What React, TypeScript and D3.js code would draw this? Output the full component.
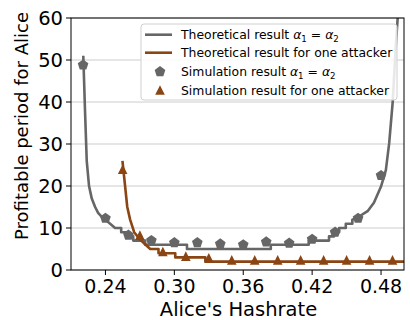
import React from "react";
import * as d3 from "d3";

// Theoretical result alpha1 = alpha2 (gray step curve)
const eqTheoryAlpha = [
  0.2207, 0.2214, 0.2222, 0.2237, 0.2257, 0.2281, 0.231, 0.2336, 0.237, 0.2397, 0.2441, 0.2484,
  0.2537, 0.2537, 0.259, 0.259, 0.2642, 0.2642, 0.2746, 0.2746, 0.311, 0.311, 0.384, 0.384,
  0.417, 0.417, 0.4347, 0.4347, 0.439, 0.439, 0.4435, 0.4435, 0.4493, 0.4493, 0.455, 0.455,
  0.4595, 0.4683, 0.4738, 0.4799, 0.4842, 0.4871, 0.4901, 0.493, 0.4945,
];
const eqTheoryValue = [
  51, 45, 38, 26, 20, 17, 15, 13.6, 12.6, 12, 11, 10,
  10, 9, 9, 8, 8, 7, 7, 6, 6, 5, 5, 6,
  6, 7, 7, 8, 8, 9, 9, 10, 10, 11, 11, 12,
  12.5, 14, 16, 19.8, 23.8, 30.2, 39.8, 54, 60,
];

// Theoretical result for one attacker (brown step curve)
const oneTheoryAlpha = [
  0.2548, 0.2571, 0.259, 0.2615, 0.265, 0.27, 0.275, 0.279,
  0.2862, 0.2862, 0.3008, 0.3008, 0.327, 0.327, 0.5,
];
const oneTheoryValue = [
  26, 20, 15, 12, 9, 7.3, 6, 5,
  5, 4, 4, 3, 3, 2, 2,
];

// Simulation result alpha1 = alpha2 (gray pentagons)
const eqSimAlpha = [0.2205, 0.24, 0.26, 0.28, 0.30, 0.32, 0.34, 0.36, 0.38, 0.40, 0.42, 0.44, 0.46, 0.48];
const eqSimValue = [48.8, 12.3, 8.3, 7.0, 6.5, 6.5, 6.2, 6.0, 6.7, 6.4, 7.3, 9.0, 12.3, 22.5];

// Simulation result for one attacker (brown triangles)
const oneSimAlpha = [0.255, 0.27, 0.29, 0.31, 0.33, 0.35, 0.37, 0.39, 0.41, 0.43, 0.45, 0.47, 0.49];
const oneSimValue = [24, 8.3, 4.4, 3.3, 2.9, 2.4, 2.4, 2.4, 2.4, 2.4, 2.4, 2.4, 2.4];

const xTicks = [0.24, 0.3, 0.36, 0.42, 0.48];
const yTicks = [0, 10, 20, 30, 40, 50, 60];

const GRAY = "#666666";
const BROWN = "#8b4513";
const FONT = "DejaVu Sans";

function pentagonPath(r: number) {
  const pts: string[] = [];
  for (let i = 0; i < 5; i++) {
    const a = -Math.PI / 2 + (i * 2 * Math.PI) / 5;
    pts.push(`${(r * Math.cos(a)).toFixed(2)},${(r * Math.sin(a)).toFixed(2)}`);
  }
  return "M" + pts.join("L") + "Z";
}
function trianglePath(r: number) {
  return `M0,${-r}L${-r},${r}L${r},${r}Z`;
}

function AlphaEq({ size }: { size: number }) {
  return (
    <>
      <tspan fontStyle="italic">α</tspan>
      <tspan fontSize={size * 0.7} dy={size * 0.2}>1</tspan>
      <tspan dy={-size * 0.2}> = </tspan>
      <tspan fontStyle="italic">α</tspan>
      <tspan fontSize={size * 0.7} dy={size * 0.2}>2</tspan>
    </>
  );
}

export default function App() {
  const W = 410, H = 320;
  const L = 71, R = 404, T = 18, B = 270;
  const x = d3.scaleLinear().domain([0.21, 0.5]).range([L, R]);
  const y = d3.scaleLinear().domain([0, 60]).range([B, T]);

  const line = d3
    .line<[number, number]>()
    .x((d) => x(d[0]))
    .y((d) => y(d[1]));

  const eqTheory = eqTheoryAlpha.map((a, i) => [a, eqTheoryValue[i]] as [number, number]);
  const oneTheory = oneTheoryAlpha.map((a, i) => [a, oneTheoryValue[i]] as [number, number]);

  const pent = pentagonPath(5.6);
  const tri = trianglePath(4.8);

  const tickFs = 19;
  const legFs = 12.4;
  const legX = 141, legY = 24, legW = 256, legH = 76;
  const rowY = [34.7, 52.7, 71.7, 90];

  return (
    <svg width={W} height={H} style={{ position: "absolute", left: 0, top: 0 }} fontFamily={FONT}>
      <rect x={0} y={0} width={W} height={H} fill="#fff" />
      <defs>
        <clipPath id="plotclip">
          <rect x={L} y={T} width={R - L} height={B - T} />
        </clipPath>
      </defs>
      {/* grid */}
      {yTicks.map((t) => (
        <line key={"g" + t} x1={L} x2={R} y1={y(t)} y2={y(t)} stroke="#cccccc" strokeWidth={1} />
      ))}
      {/* lines */}
      <g clipPath="url(#plotclip)">
        <path d={line(eqTheory) || ""} fill="none" stroke={GRAY} strokeWidth={2.6} strokeLinejoin="round" />
        <path d={line(oneTheory) || ""} fill="none" stroke={BROWN} strokeWidth={2.6} strokeLinejoin="round" />
        {eqSimAlpha.map((a, i) => (
          <path key={"p" + i} d={pent} transform={`translate(${x(a)},${y(eqSimValue[i])})`} fill={GRAY} />
        ))}
        {oneSimAlpha.map((a, i) => (
          <path key={"t" + i} d={tri} transform={`translate(${x(a)},${y(oneSimValue[i])})`} fill={BROWN} />
        ))}
      </g>
      {/* frame */}
      <rect x={L} y={T} width={R - L} height={B - T} fill="none" stroke="#000" strokeWidth={1} />
      {/* x axis */}
      {xTicks.map((t) => (
        <g key={"x" + t}>
          <line x1={x(t)} x2={x(t)} y1={B} y2={B + 5} stroke="#000" strokeWidth={1} />
          <text x={x(t)} y={B + 23} textAnchor="middle" fontSize={tickFs} fill="#000">
            {t.toFixed(2)}
          </text>
        </g>
      ))}
      {/* y axis */}
      {yTicks.map((t) => (
        <g key={"y" + t}>
          <line x1={L - 5} x2={L} y1={y(t)} y2={y(t)} stroke="#000" strokeWidth={1} />
          <text x={L - 8} y={y(t) + 7} textAnchor="end" fontSize={tickFs + 0.5} fill="#000">
            {t}
          </text>
        </g>
      ))}
      <text x={(L + R) / 2 + 1} y={316} textAnchor="middle" fontSize={19.5} fill="#000">
        Alice's Hashrate
      </text>
      <text
        transform={`translate(28,126) rotate(-90)`}
        textAnchor="middle"
        fontSize={18}
        fill="#000"
      >
        Profitable period for Alice
      </text>
      {/* legend */}
      <rect x={legX} y={legY} width={legW} height={legH} rx={3} fill="#fff" fillOpacity={0.85} stroke="#d0d0d0" strokeWidth={1} />
      <line x1={145} x2={172} y1={rowY[0]} y2={rowY[0]} stroke={GRAY} strokeWidth={2.6} />
      <line x1={145} x2={172} y1={rowY[1]} y2={rowY[1]} stroke={BROWN} strokeWidth={2.6} />
      <path d={pent} transform={`translate(160,${rowY[2]})`} fill={GRAY} />
      <path d={tri} transform={`translate(160,${rowY[3]})`} fill={BROWN} />
      <text x={181} y={rowY[0] + 4.5} fontSize={legFs} fill="#000">
        Theoretical result <AlphaEq size={legFs} />
      </text>
      <text x={181} y={rowY[1] + 4.5} fontSize={legFs} fill="#000">
        Theoretical result for one attacker
      </text>
      <text x={181} y={rowY[2] + 4.5} fontSize={legFs} fill="#000">
        Simulation result <AlphaEq size={legFs} />
      </text>
      <text x={181} y={rowY[3] + 4.5} fontSize={legFs} fill="#000">
        Simulation result for one attacker
      </text>
    </svg>
  );
}
